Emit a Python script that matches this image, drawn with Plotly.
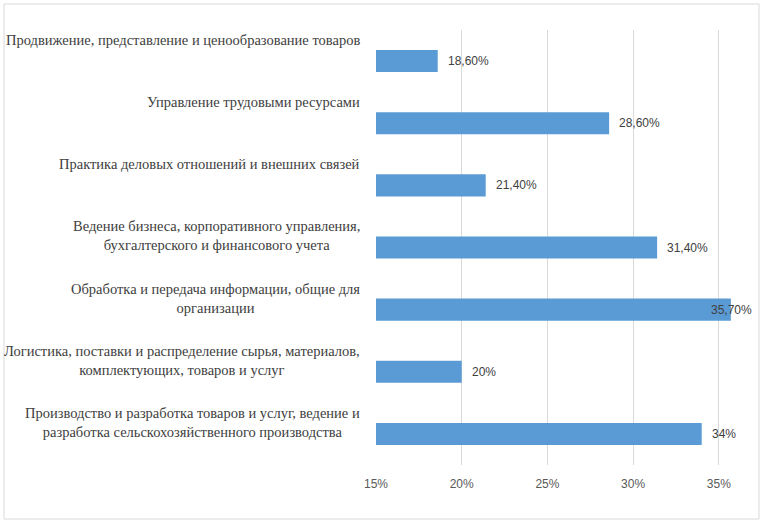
import plotly.graph_objects as go

categories = [
    "Продвижение, представление и ценообразование товаров",
    "Управление трудовыми ресурсами",
    "Практика деловых отношений и внешних связей",
    "Ведение бизнеса, корпоративного управления,<br>бухгалтерского и финансового учета",
    "Обработка и передача информации, общие для<br>организации",
    "Логистика, поставки и распределение сырья, материалов,<br>комплектующих, товаров и услуг",
    "Производство и разработка товаров и услуг, ведение и<br>разработка сельскохозяйственного производства",
]
values = [18.6, 28.6, 21.4, 31.4, 35.7, 20.0, 34.0]
value_labels = ["18,60%", "28,60%", "21,40%", "31,40%", "35,70%", "20%", "34%"]
tick_values = [15, 20, 25, 30, 35]
tick_labels = ["15%", "20%", "25%", "30%", "35%"]

W, H = 764, 523
L, R, T, B = 376, 28, 30, 58
X_MIN, X_MAX = 15, 36

SERIF = "'Liberation Serif', 'Times New Roman', serif"
SANS = "'Liberation Sans', Arial, sans-serif"

positions = list(range(len(categories)))

fig = go.Figure()
fig.add_trace(go.Bar(
    x=values, y=positions, orientation="h",
    marker=dict(color="#5b9bd5", line=dict(width=0)),
    width=0.355, hoverinfo="skip",
))

annotations = []
for i, cat in enumerate(categories):
    annotations.append(dict(
        x=0, xref="paper", y=i - 0.5, yref="y",
        text=cat, showarrow=False, xanchor="right", yanchor="top",
        align="center", xshift=-14, yshift=0,
        font=dict(family=SERIF, size=14.5, color="#404040"),
    ))
for i, (v, lab) in enumerate(zip(values, value_labels)):
    if v > tick_values[-1]:
        annotations.append(dict(
            x=1, xref="paper", y=i, yref="y", text=lab, showarrow=False,
            xanchor="right", yanchor="middle", xshift=18,
            font=dict(family=SANS, size=12, color="#404040"),
        ))
    else:
        annotations.append(dict(
            x=v, xref="x", y=i, yref="y", text=lab, showarrow=False,
            xanchor="left", yanchor="middle", xshift=8,
            font=dict(family=SANS, size=12, color="#404040"),
        ))

pw = W - L - R
ph = H - T - B
def px_to_paper_x(px):
    return (px - L) / pw
def px_to_paper_y(py):
    return (H - B - py) / ph

fig.update_layout(
    width=W, height=H,
    margin=dict(l=L, r=R, t=T, b=B),
    paper_bgcolor="white", plot_bgcolor="white",
    showlegend=False,
    xaxis=dict(
        range=[X_MIN, X_MAX], tickvals=tick_values, ticktext=tick_labels,
        showgrid=True, gridcolor="#d9d9d9", gridwidth=1,
        zeroline=False, showline=False, ticks="", ticklabelstandoff=10,
        tickfont=dict(family=SANS, size=12, color="#595959"),
        fixedrange=True,
    ),
    yaxis=dict(
        range=[len(categories) - 0.5, -0.5], showticklabels=False,
        showgrid=False, zeroline=False, showline=False, ticks="",
        fixedrange=True,
    ),
    annotations=annotations,
    shapes=[dict(
        type="rect", xref="paper", yref="paper",
        x0=px_to_paper_x(4), x1=px_to_paper_x(759),
        y0=px_to_paper_y(519), y1=px_to_paper_y(4),
        line=dict(color="#d9d9d9", width=1), fillcolor="rgba(0,0,0,0)",
        layer="below",
    )],
)

fig.write_html(
    "out.html",
    config={"displayModeBar": False},
    post_script="document.body.style.margin='0';document.body.style.overflow='hidden';",
)
